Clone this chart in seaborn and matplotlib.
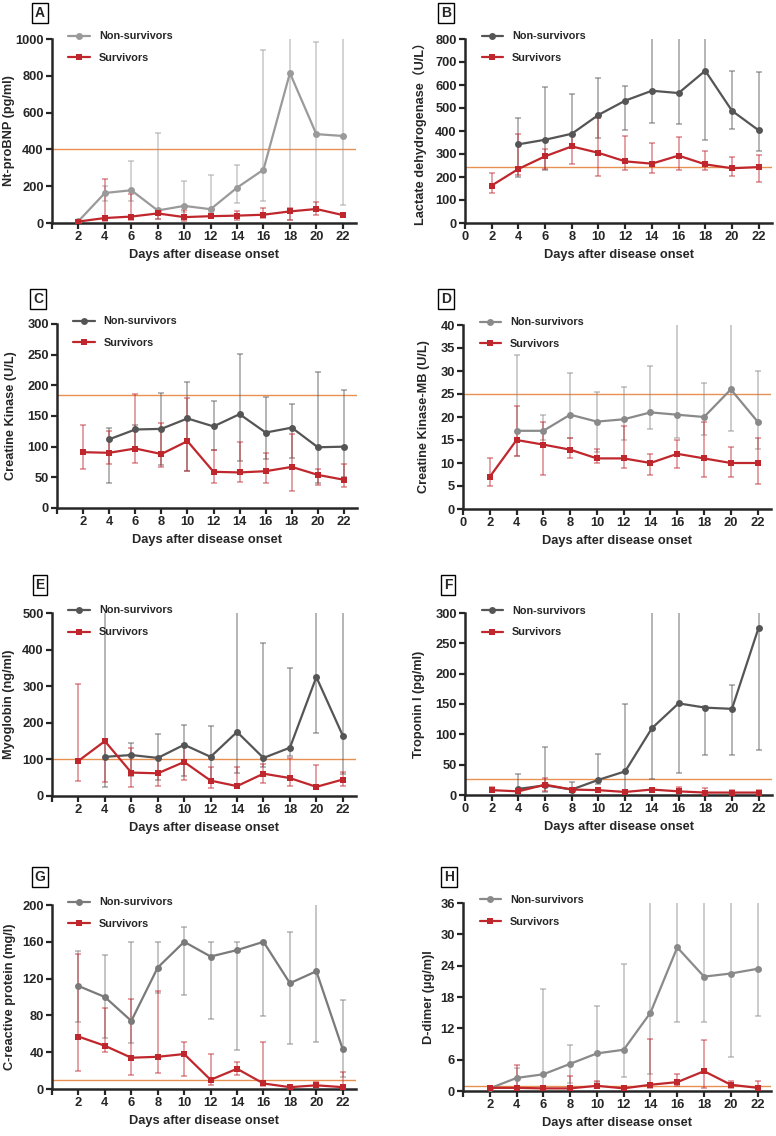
import numpy as np
import pandas as pd
import matplotlib
matplotlib.use('Agg')
import matplotlib.pyplot as plt
import seaborn as sns

# x values: days after onset
days = [2, 4, 6, 8, 10, 12, 14, 16, 18, 20, 22]
nan = np.nan

# A: Nt-proBNP  (median, lower, upper) -- non-survivors / survivors
bnp_ns = [10, 163, 178, 68, 93, 75, 192, 290, 815, 483, 473]
bnp_ns_lo = [5, 120, 118, 20, 60, 60, 107, 118, 15, 80, 97]
bnp_ns_hi = [15, 200, 335, 487, 230, 260, 313, 938, 1100, 985, 1100]
bnp_s = [8, 27, 35, 52, 32, 37, 40, 45, 63, 76, 43]
bnp_s_lo = [5, 10, 15, 20, 10, 25, 15, 25, 15, 42, 40]
bnp_s_hi = [12, 238, 160, 70, 70, 50, 65, 80, 80, 112, 46]

# B: LDH
ldh_ns = [nan, 342, 362, 388, 470, 532, 575, 565, 662, 488, 403]
ldh_ns_lo = [nan, 200, 230, 330, 368, 405, 435, 430, 362, 407, 313]
ldh_ns_hi = [nan, 458, 590, 560, 632, 595, 900, 900, 900, 660, 655]
ldh_s = [163, 235, 290, 333, 305, 268, 258, 293, 255, 238, 243]
ldh_s_lo = [132, 210, 235, 257, 205, 232, 218, 230, 232, 205, 178]
ldh_s_hi = [218, 387, 323, 380, 455, 378, 350, 372, 312, 285, 297]

# C: Creatine kinase
ck_ns = [nan, 112, 128, 129, 146, 133, 153, 123, 131, 99, 100]
ck_ns_lo = [nan, 41, 100, 70, 60, 95, 76, 80, 81, 40, 50]
ck_ns_hi = [nan, 131, 135, 187, 206, 175, 251, 181, 170, 221, 193]
ck_s = [91, 90, 97, 88, 109, 59, 58, 60, 67, 54, 46]
ck_s_lo = [64, 72, 73, 67, 60, 40, 42, 40, 27, 37, 35]
ck_s_hi = [135, 126, 186, 138, 180, 94, 108, 90, 120, 63, 71]

# D: CK-MB
ckmb_ns = [nan, 17, 17, 20.5, 19, 19.5, 21, 20.5, 20, 26, 19]
ckmb_ns_lo = [nan, 11.5, 15, 15.5, 12.5, 15, 17.5, 15.5, 16, 17, 13]
ckmb_ns_hi = [nan, 33.5, 20.5, 29.5, 25.5, 26.5, 31, 45, 27.3, 45, 30]
ckmb_s = [7, 15, 14, 12.9, 11, 11, 10, 12, 11, 10, 10]
ckmb_s_lo = [5, 11.5, 7.5, 11, 10, 9, 7.5, 9, 7, 7, 5.5]
ckmb_s_hi = [11, 22.5, 19, 15.5, 13, 18, 12, 15, 19, 13.5, 15.5]

# E: Myoglobin
myo_ns = [nan, 107, 112, 104, 140, 107, 175, 104, 132, 325, 165]
myo_ns_lo = [nan, 25, 55, 45, 55, 35, 63, 80, 110, 172, 60]
myo_ns_hi = [nan, 550, 145, 170, 195, 192, 550, 417, 350, 550, 550]
myo_s = [96, 150, 64, 62, 93, 42, 27, 61, 49, 25, 45]
myo_s_lo = [40, 38, 25, 28, 43, 22, 25, 36, 27, 22, 28]
myo_s_hi = [307, 155, 132, 105, 143, 80, 80, 88, 105, 85, 65]

# F: Troponin I
tni_ns = [nan, 10, 16, 9, 25, 39, 110, 151, 144, 142, 276]
tni_ns_lo = [nan, 5, 5, 5, 18, 5, 26, 37, 66, 66, 75]
tni_ns_hi = [nan, 34, 79, 21, 68, 150, 330, 330, 147, 181, 330]
tni_s = [8, 6, 17, 9, 8, 5, 9, 6, 4, 4, 4]
tni_s_lo = [5, 4, 6, 6, 5, 3, 6, 3, 2, 2, 2]
tni_s_hi = [14, 10, 28, 11, 10, 7, 11, 13, 12, 8, 8]

# G: CRP
crp_ns = [112, 100, 74, 132, 160, 144, 151, 160, 115, 128, 43]
crp_ns_lo = [73, 55, 50, 104, 102, 76, 42, 79, 49, 51, 13]
crp_ns_hi = [150, 146, 160, 160, 176, 160, 160, 160, 171, 220, 97]
crp_s = [57, 47, 34, 35, 38, 10, 22, 6, 2, 4, 2]
crp_s_lo = [20, 40, 15, 17, 14, 4, 15, 3, 1, 2, 1]
crp_s_hi = [147, 88, 98, 106, 51, 38, 29, 51, 3, 8, 19]

# H: D-dimer
dd_ns = [0.5, 2.5, 3.2, 5.2, 7.2, 7.9, 15, 27.5, 21.9, 22.5, 23.4]
dd_ns_lo = [0.3, 0.5, 0.5, 1.5, 1.8, 2.6, 3.2, 13.2, 13.2, 6.5, 14.3]
dd_ns_hi = [0.8, 4.4, 19.5, 8.9, 16.3, 24.3, 40, 40, 40, 40, 40]
dd_s = [0.6, 0.6, 0.5, 0.5, 1.0, 0.5, 1.2, 1.7, 3.8, 1.2, 0.6]
dd_s_lo = [0.3, 0.3, 0.3, 0.3, 0.5, 0.3, 0.5, 0.9, 0.5, 0.6, 0.3]
dd_s_hi = [1.0, 5.0, 0.8, 2.8, 1.9, 0.8, 10, 3.2, 9.8, 1.9, 1.9]

sns.set_style('ticks')
plt.rcParams['font.family'] = ['Liberation Sans', 'Noto Sans CJK SC', 'DejaVu Sans']
plt.rcParams['font.weight'] = 'bold'
plt.rcParams['axes.labelweight'] = 'bold'

W, H = 776, 1136
fig = plt.figure(figsize=(W / 100, H / 100), dpi=100)

RED = '#c0272d'
ORANGE = '#e8904f'


def panel(letter, box_xy, rect, ns, ns_lo, ns_hi, s, s_lo, s_hi, ref, ymax, ystep,
          ylabel, ylab_x, gray, zero_label):
    l, t, r, b = rect
    ax = fig.add_axes([l / W, 1 - b / H, (r - l) / W, (b - t) / H])
    df = pd.DataFrame({
        'day': days * 2,
        'value': list(ns) + list(s),
        'group': ['Non-survivors'] * len(days) + ['Survivors'] * len(days),
    }).dropna()
    ns_a, s_a = np.array(ns, float), np.array(s, float)
    ax.axhline(ref, color=ORANGE, lw=1.0, zorder=1)
    ax.errorbar(days, ns_a, yerr=[ns_a - np.array(ns_lo, float), np.array(ns_hi, float) - ns_a],
                fmt='none', ecolor=gray, alpha=0.55, elinewidth=1.1, capsize=2.5, capthick=1.1, zorder=2)
    ax.errorbar(days, s_a, yerr=[s_a - np.array(s_lo, float), np.array(s_hi, float) - s_a],
                fmt='none', ecolor=RED, alpha=0.55, elinewidth=1.1, capsize=2.5, capthick=1.1, zorder=2)
    sns.lineplot(data=df, x='day', y='value', hue='group', style='group',
                 palette={'Non-survivors': gray, 'Survivors': RED},
                 markers={'Non-survivors': 'o', 'Survivors': 's'}, dashes=False,
                 markersize=5, markeredgewidth=0, linewidth=1.6, estimator=None,
                 ax=ax, zorder=3)
    h, lab = ax.get_legend_handles_labels()
    ax.legend(h, lab, loc='upper left', bbox_to_anchor=(0.04, 1.065), frameon=False,
              fontsize=7.8, handlelength=2.0, labelspacing=1.1, borderaxespad=0)
    ax.set_xlim(0, 23)
    ax.set_ylim(0, ymax)
    ax.set_xticks(range(0, 23, 2))
    ax.set_xticklabels(['0' if zero_label else ''] + [str(d) for d in range(2, 23, 2)])
    ax.set_yticks(np.arange(0, ymax + ystep / 2, ystep))
    ax.set_xlabel('Days after disease onset', fontsize=9.2, labelpad=4)
    ax.set_ylabel(ylabel, fontsize=9.2)
    ax.yaxis.label.set_verticalalignment('center')
    ax.yaxis.set_label_coords((ylab_x - l) / (r - l), 0.5)
    ax.tick_params(labelsize=9.3, width=1.6, length=4, direction='out', pad=2)
    for sp in ['top', 'right']:
        ax.spines[sp].set_visible(False)
    for sp in ['left', 'bottom']:
        ax.spines[sp].set_linewidth(1.8)
    fig.text(box_xy[0] / W, 1 - box_xy[1] / H, letter, fontsize=10, fontweight='bold',
             ha='center', va='center',
             bbox=dict(boxstyle='square,pad=0.2', fc='white', ec='black', lw=1.0))
    return ax


panel('A', (40, 13), (52, 39, 356, 223), bnp_ns, bnp_ns_lo, bnp_ns_hi, bnp_s, bnp_s_lo, bnp_s_hi,
      400, 1000, 200, 'Nt-proBNP (pg/ml)', 9, '#9a9a9a', False)
panel('B', (446, 13), (465, 39, 772, 223), ldh_ns, ldh_ns_lo, ldh_ns_hi, ldh_s, ldh_s_lo, ldh_s_hi,
      245, 800, 100, 'Lactate dehydrogenase\uff08U/L\uff09', 420, '#555555', True)
panel('C', (38, 299), (57, 324, 357, 508), ck_ns, ck_ns_lo, ck_ns_hi, ck_s, ck_s_lo, ck_s_hi,
      185, 300, 50, 'Creatine Kinase (U/L)', 11, '#555555', False)
panel('D', (446, 299), (463, 325, 771, 509), ckmb_ns, ckmb_ns_lo, ckmb_ns_hi, ckmb_s, ckmb_s_lo, ckmb_s_hi,
      25, 40, 5, 'Creatine Kinase-MB (U/L)', 424, '#8a8a8a', True)
panel('E', (40, 585), (52, 613, 356, 796), myo_ns, myo_ns_lo, myo_ns_hi, myo_s, myo_s_lo, myo_s_hi,
      100, 500, 100, 'Myoglobin (ng/ml)', 9, '#555555', False)
panel('F', (448, 585), (465, 613, 772, 795), tni_ns, tni_ns_lo, tni_ns_hi, tni_s, tni_s_lo, tni_s_hi,
      26, 300, 50, 'Troponin I (pg/ml)', 419, '#555555', True)
panel('G', (40, 877), (52, 905, 356, 1089), crp_ns, crp_ns_lo, crp_ns_hi, crp_s, crp_s_lo, crp_s_hi,
      10, 200, 40, 'C-reactive protein (mg/l)', 10, '#7a7a7a', False)
panel('H', (449, 877), (463, 903, 771, 1091), dd_ns, dd_ns_lo, dd_ns_hi, dd_s, dd_s_lo, dd_s_hi,
      1.0, 36, 6, 'D-dimer (\u00b5g/m)l', 429, '#8a8a8a', False)

fig.savefig('out.png', dpi=100)
